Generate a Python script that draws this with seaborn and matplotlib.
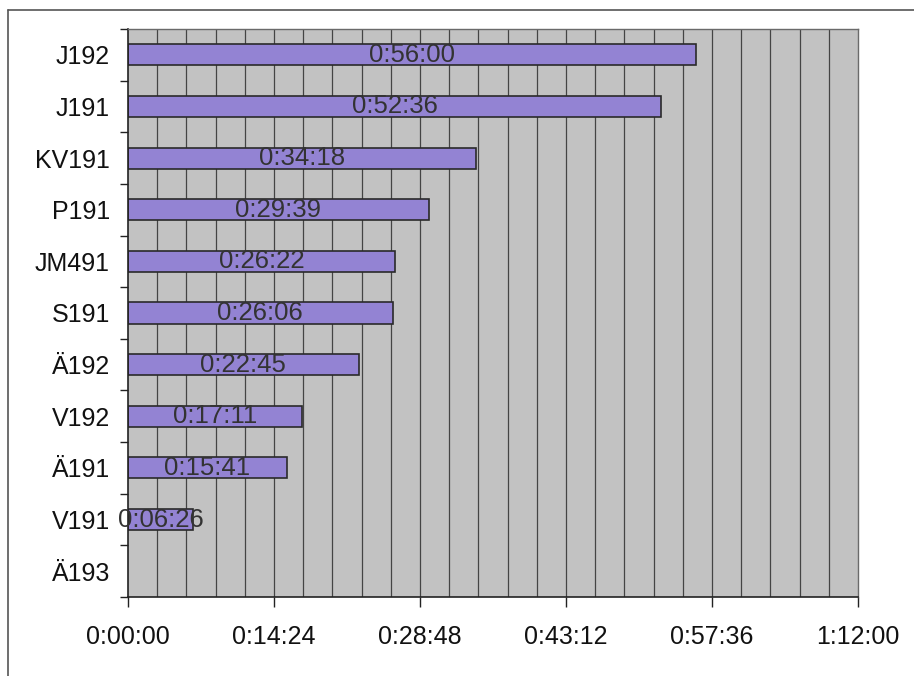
import numpy as np
import pandas as pd
import seaborn as sns
import matplotlib
matplotlib.use("Agg")
import matplotlib.pyplot as plt
from matplotlib.ticker import FuncFormatter, MultipleLocator, FixedLocator
from matplotlib.lines import Line2D

# Route codes and their total durations (h:mm:ss)
routes = ["J192", "J191", "KV191", "P191", "JM491", "S191",
          "Ä192", "V192", "Ä191", "V191", "Ä193"]
durations = ["0:56:00", "0:52:36", "0:34:18", "0:29:39", "0:26:22", "0:26:06",
             "0:22:45", "0:17:11", "0:15:41", "0:06:26", None]

x_max = "1:12:00"
x_step = "0:14:24"


def to_seconds(s):
    if s is None:
        return np.nan
    h, m, sec = (int(p) for p in s.split(":"))
    return h * 3600 + m * 60 + sec


def fmt_hms(v, pos=None):
    v = int(round(v))
    return f"{v // 3600}:{(v % 3600) // 60:02d}:{v % 60:02d}"


df = pd.DataFrame({"route": routes,
                   "seconds": [to_seconds(d) for d in durations]})

sns.set_style("white")
plt.rcParams["font.family"] = ["Liberation Sans", "DejaVu Sans"]

fig = plt.figure(figsize=(9.14, 6.76), dpi=100)
ax = fig.add_axes([128 / 914, 1 - 597 / 676, 730 / 914, 568 / 676])
ax.set_facecolor("#c2c2c2")

xmax = to_seconds(x_max)
step = to_seconds(x_step)

# vertical gridlines every fifth of a major step
for gx in np.arange(step / 5, xmax, step / 5):
    ax.axvline(gx, color="#444444", lw=0.9, zorder=0.5)

sns.barplot(data=df, x="seconds", y="route", order=routes, orient="h",
            color="#9383d3", saturation=1, width=0.41,
            edgecolor="#2a2a2a", linewidth=1.2, ax=ax, zorder=2)

# value labels centred inside each bar
for patch in ax.patches:
    w = patch.get_width()
    if np.isfinite(w) and w > 0:
        ax.text(w / 2, patch.get_y() + patch.get_height() / 2, fmt_hms(w),
                ha="center", va="center", fontsize=18.5, color="#333333",
                zorder=3)

ax.set_xlim(0, xmax)
ax.set_ylim(len(routes) - 0.5, -0.5)
ax.xaxis.set_major_locator(MultipleLocator(step))
ax.xaxis.set_major_formatter(FuncFormatter(fmt_hms))
ax.set_xlabel("")
ax.set_ylabel("")

ax.tick_params(axis="x", which="major", direction="out", length=7, width=1,
               color="#222222", labelsize=18, pad=13, labelcolor="#111111",
               bottom=True)
ax.tick_params(axis="y", which="major", length=0, labelsize=18, pad=13,
               labelcolor="#111111", left=True)
ax.yaxis.set_minor_locator(FixedLocator(np.arange(-0.5, len(routes), 1.0)))
ax.tick_params(axis="y", which="minor", direction="out", length=6, width=1,
               color="#222222", left=True)

for side in ("left", "bottom"):
    ax.spines[side].set_color("#222222")
    ax.spines[side].set_linewidth(1.2)
    ax.spines[side].set_visible(True)
for side in ("top", "right"):
    ax.spines[side].set_color("#6a6a6a")
    ax.spines[side].set_linewidth(1.0)
    ax.spines[side].set_linestyle((0, (2, 1)))
    ax.spines[side].set_visible(True)

# frame lines around the chart area
fig.add_artist(Line2D([8 / 914, 1.0], [1 - 10 / 676, 1 - 10 / 676],
                      transform=fig.transFigure, color="#555555", lw=1.2))
fig.add_artist(Line2D([8 / 914, 8 / 914], [0.0, 1 - 10 / 676],
                      transform=fig.transFigure, color="#555555", lw=1.2))

fig.savefig("out.png", dpi=100, facecolor="white")
